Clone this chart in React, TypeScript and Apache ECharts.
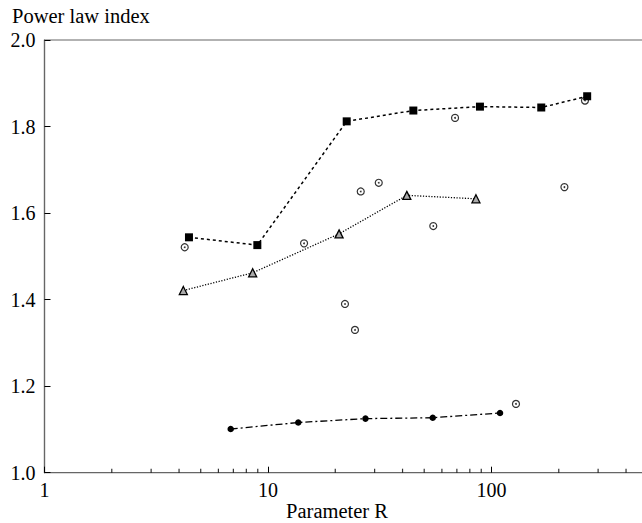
import React, { useEffect, useRef } from "react";
import * as echarts from "echarts";

// Series: filled squares (dashed line)
const squareR = [4.43, 8.96, 22.5, 44.7, 88.8, 167, 268];
const squareV = [1.544, 1.526, 1.812, 1.837, 1.846, 1.844, 1.87];
// Series: open triangles (dotted line)
const triR = [4.18, 8.54, 20.8, 41.8, 85.2];
const triV = [1.421, 1.462, 1.552, 1.641, 1.633];
// Series: filled circles (dash-dot line)
const dotR = [6.81, 13.66, 27.3, 54.6, 109.2];
const dotV = [1.101, 1.116, 1.125, 1.127, 1.138];
// Series: open circles with a centre dot (no line)
const openR = [4.24, 14.5, 22.1, 24.5, 26.0, 31.3, 54.9, 68.7, 128.7, 212, 262];
const openV = [1.521, 1.53, 1.39, 1.33, 1.65, 1.67, 1.57, 1.82, 1.159, 1.66, 1.86];

// Axis settings
const xMin = 1;
const xMax = 500;
const yMin = 1.0;
const yMax = 2.0;
const yStep = 0.2;
const minorTickR = [2, 3, 4, 5, 6, 7, 8, 9, 20, 30, 40, 50, 60, 70, 80, 90, 200, 300, 400];

const yTitle = "Power law index";
const xTitle = "Parameter R";

const FONT = "Liberation Serif, Times New Roman, serif";
const FS = 20;
const FS_TITLE = 20.5;

const pairs = (xs: number[], ys: number[]) => xs.map((x, i) => [x, ys[i]]);

export default function App() {
  const ref = useRef<HTMLDivElement>(null);
  useEffect(() => {
    if (!ref.current) return;
    const chart = echarts.init(ref.current, undefined, { renderer: "svg" });
    const axisColor = "#666";
    chart.setOption({
      animation: false,
      backgroundColor: "#fff",
      textStyle: { fontFamily: FONT, color: "#000" },
      grid: {
        left: 44.5,
        right: 12.3,
        top: 40,
        bottom: 50.3,
        show: true,
        borderColor: axisColor,
        borderWidth: 1.2,
      },
      graphic: [
        {
          type: "text",
          x: 12,
          y: 5,
          style: {
            text: yTitle,
            fontFamily: FONT,
            fontSize: FS_TITLE,
            fill: "#000",
            align: "left",
            verticalAlign: "top",
          },
        },
        {
          type: "text",
          x: 337,
          y: 500,
          style: {
            text: xTitle,
            fontFamily: FONT,
            fontSize: FS_TITLE,
            fill: "#000",
            align: "center",
            verticalAlign: "top",
          },
        },
      ],
      xAxis: {
        type: "log",
        logBase: 10,
        min: xMin,
        max: xMax,
        axisLine: { show: true, lineStyle: { color: axisColor, width: 1.2 } },
        axisTick: { show: true, inside: true, length: 6, lineStyle: { color: "#000" } },
        axisLabel: {
          show: true,
          margin: 7,
          fontSize: FS,
          fontFamily: FONT,
          color: "#000",
          showMaxLabel: false,
        },
        splitLine: { show: false },
      },
      yAxis: {
        type: "value",
        min: yMin,
        max: yMax,
        interval: yStep,
        axisLine: { show: true, lineStyle: { color: axisColor, width: 1.2 } },
        axisTick: { show: true, inside: true, length: 6, lineStyle: { color: "#000" } },
        axisLabel: {
          margin: 9,
          fontSize: FS,
          fontFamily: FONT,
          color: "#000",
          formatter: (v: number) => v.toFixed(1),
        },
        splitLine: { show: false },
      },
      series: [
        {
          name: "minor ticks",
          type: "scatter",
          data: minorTickR.map((r) => [r, yMin]),
          symbol: "rect",
          symbolSize: [1.2, 4],
          symbolOffset: [0, -2],
          itemStyle: { color: "#000" },
          clip: false,
          silent: true,
          z: 10,
        },
        {
          name: "squares",
          type: "line",
          data: pairs(squareR, squareV),
          symbol: "rect",
          symbolSize: 8,
          itemStyle: { color: "#000" },
          lineStyle: { color: "#000", width: 1.5, type: [3, 3] },
          z: 4,
        },
        {
          name: "triangles",
          type: "line",
          data: pairs(triR, triV),
          symbol: "triangle",
          symbolSize: 8,
          itemStyle: { color: "#aaa", borderColor: "#000", borderWidth: 1.3 },
          lineStyle: { color: "#000", width: 1.3, type: [1.2, 1.6] },
          z: 3,
        },
        {
          name: "filled circles",
          type: "line",
          data: pairs(dotR, dotV),
          symbol: "circle",
          symbolSize: 6.5,
          itemStyle: { color: "#000" },
          lineStyle: { color: "#000", width: 1.3, type: [7, 3, 2, 3] },
          z: 3,
        },
        {
          name: "open circles",
          type: "scatter",
          data: pairs(openR, openV),
          symbol: "circle",
          symbolSize: 7,
          itemStyle: { color: "#fff", borderColor: "#000", borderWidth: 1.2 },
          z: 2,
        },
        {
          name: "open circle centres",
          type: "scatter",
          data: pairs(openR, openV),
          symbol: "circle",
          symbolSize: 1.8,
          itemStyle: { color: "#000" },
          z: 2,
        },
      ],
    });
    return () => chart.dispose();
  }, []);
  return (
    <div
      style={{
        position: "fixed",
        left: 0,
        top: 0,
        width: 642,
        height: 523,
        overflow: "hidden",
        background: "#fff",
      }}
    >
      <div ref={ref} style={{ width: 660, height: 523 }} />
    </div>
  );
}
